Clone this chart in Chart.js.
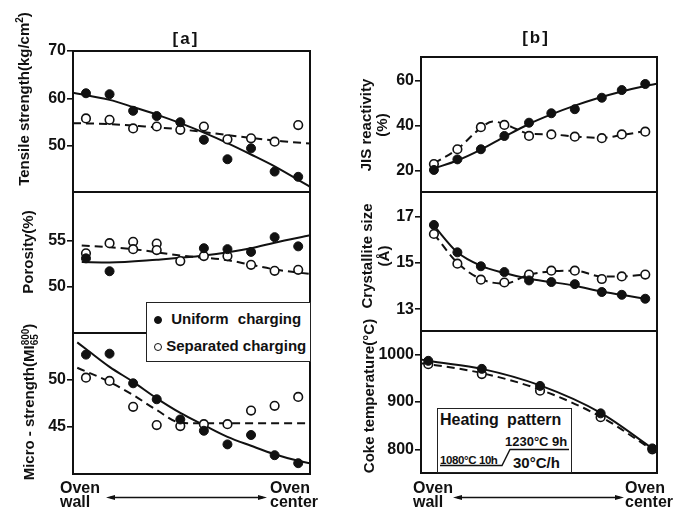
<!DOCTYPE html>
<html>
<head>
<meta charset="utf-8">
<script src="https://cdn.jsdelivr.net/npm/chart.js@4.4.1/dist/chart.umd.min.js"></script>
<style>
  html, body { margin:0; padding:0; background:#fff; }
  body { width:678px; height:512px; position:relative; overflow:hidden; font-family:"Liberation Sans", Arial, sans-serif; color:#111; font-weight:bold; }
  canvas { position:absolute; }
  .t { position:absolute; white-space:nowrap; }
  .rot { position:absolute; white-space:nowrap; transform:translate(-50%,-50%) rotate(-90deg); text-align:center; }
  .box { position:absolute; background:#fff; border:1.5px solid #222; box-sizing:border-box; z-index:5; }
  svg { position:absolute; left:0; top:0; z-index:6; pointer-events:none; }
  .dot { display:inline-block; width:8px; height:8px; border-radius:50%; box-sizing:border-box; border:1.5px solid #111; vertical-align:middle; }
</style>
</head>
<body>
<script>
// ---------------- data ----------------
const posA = [1, 2, 3, 4, 5, 6, 7, 8, 9, 10];
const posB = [1, 2, 3, 4, 5.05, 6, 7, 8.15, 9, 10];

// [a] Tensile strength (kg/cm2)
const tensileUniform   = [61.1, 60.9, 57.4, 56.3, 55.0, 51.3, 47.2, 49.5, 44.6, 43.5];
const tensileSeparated = [55.8, 55.5, 53.7, 54.1, 53.4, 54.1, 51.4, 51.6, 50.9, 54.4];
const tensileUniformFitX = [0.45, 2, 3, 4, 5, 6, 7, 8, 9, 10.5];
const tensileUniformFit  = [61.2, 59.7, 58.2, 56.6, 54.8, 52.8, 50.6, 48.2, 45.7, 41.4];
const tensileSeparatedFitX = [0.45, 2, 3.5, 5, 6.5, 8, 9.3, 10.5];
const tensileSeparatedFit  = [54.8, 54.6, 54.1, 53.5, 52.6, 51.7, 51.0, 50.5];
const tensileTicks = [50, 60, 70];
const tensileTickLabels = ['50', '60', '70'];

// [a] Porosity (%)
const porosityUniformX = [1, 2, 6, 7, 8, 9, 10];
const porosityUniform  = [53.1, 51.7, 54.2, 54.1, 53.8, 55.4, 54.4];
const porositySeparatedX = [1, 2, 3, 3, 4, 4, 5, 6, 7, 8, 9, 10];
const porositySeparated  = [53.65, 54.75, 54.9, 54.1, 54.7, 54.0, 52.8, 53.35, 53.35, 52.4, 51.75, 51.85];
const porosityUniformFitX = [0.82, 2, 4, 6, 8, 9, 10.5];
const porosityUniformFit  = [52.7, 52.65, 52.95, 53.4, 54.2, 54.8, 55.6];
const porositySeparatedFitX = [0.82, 3, 5, 7, 8, 9, 10.5];
const porositySeparatedFit  = [54.5, 54.1, 53.4, 52.9, 52.4, 51.9, 51.4];
const porosityTicks = [50, 55];
const porosityTickLabels = ['50', '55'];

// [a] Micro-strength (MI 800/65)
const microUniform   = [52.7, 52.8, 49.65, 47.95, 45.8, 44.6, 43.15, 44.15, 42.0, 41.15];
const microSeparated = [50.25, 49.9, 47.15, 45.2, 45.1, 45.3, 45.3, 46.75, 47.25, 48.2];
const microUniformFitX = [0.63, 1, 2, 3, 4, 5, 6, 7, 8, 9, 10, 10.5];
const microUniformFit  = [54.0, 53.3, 51.4, 49.8, 48.05, 46.5, 45.2, 43.95, 43.0, 42.1, 41.4, 41.15];
const microSeparatedFitX = [0.63, 2, 3, 4, 5, 5.5, 10.5];
const microSeparatedFit  = [51.3, 49.8, 48.4, 46.8, 45.45, 45.4, 45.4];
const microTicks = [45, 50];
const microTickLabels = ['45', '50'];

// [b] JIS reactivity (%)
const jisUniform   = [20.3, 25.0, 29.5, 35.4, 41.3, 45.5, 47.3, 52.4, 55.8, 58.5];
const jisSeparated = [22.9, 29.5, 39.3, 40.3, 35.4, 36.1, 35.1, 34.4, 36.1, 37.3];
const jisUniformFitX = [1, 2, 3, 4, 5, 6, 7, 8, 9, 10, 10.5];
const jisUniformFit  = [21.0, 24.5, 29.3, 35.0, 40.5, 45.0, 48.9, 52.3, 55.2, 57.6, 58.6];
const jisSeparatedFitX = [1, 2, 3, 3.5, 4, 4.5, 5.05, 6, 7, 8.15, 9, 10];
const jisSeparatedFit  = [23.2, 29.6, 39.0, 41.8, 40.8, 38.5, 36.4, 36.1, 35.1, 34.6, 35.8, 37.6];
const jisTicks = [20, 40, 60];
const jisTickLabels = ['20', '40', '60'];

// [b] Crystallite size (Å)
const crystUniform   = [16.63, 15.45, 14.85, 14.6, 14.24, 14.17, 14.08, 13.74, 13.62, 13.45];
const crystSeparated = [16.24, 14.96, 14.27, 14.15, 14.49, 14.66, 14.66, 14.3, 14.41, 14.49];
const crystUniformFit   = [16.6, 15.45, 14.87, 14.56, 14.31, 14.17, 14.01, 13.76, 13.62, 13.45];
const crystSeparatedFit = [16.24, 15.0, 14.3, 14.1, 14.49, 14.63, 14.66, 14.41, 14.41, 14.49];
const crystTicks = [13, 15, 17];
const crystTickLabels = ['13', '15', '17'];

// [b] Coke temperature (°C)
const cokeX = [0.76, 3.04, 5.52, 8.1, 10.3];
const cokeUniform   = [987, 970, 934, 876, 802];
const cokeSeparated = [980, 959, 924, 868, 800];
const cokeFitX = [0.45, 0.76, 3.04, 5.52, 8.1, 10.3];
const cokeUniformFit   = [990, 987, 970, 935, 877, 802];
const cokeSeparatedFit = [982, 980, 961, 926, 869, 799];
const cokeTicks = [800, 900, 1000];
const cokeTickLabels = ['800', '900', '1000'];

// ---------------- helpers ----------------
const FONT = '"Liberation Sans", Arial, sans-serif';
const INK = '#111';
const zip = (xs, ys) => xs.map((x, i) => ({ x: x, y: ys[i] }));

function filled(xs, ys) {
  return { data: zip(xs, ys), showLine: false, pointRadius: 4.5, pointBackgroundColor: INK,
           pointBorderColor: INK, pointBorderWidth: 1, order: 0 };
}
function open(xs, ys) {
  return { data: zip(xs, ys), showLine: false, pointRadius: 4.3, pointBackgroundColor: '#fff',
           pointBorderColor: INK, pointBorderWidth: 1.6, order: 0 };
}
function solid(xs, ys) {
  return { data: zip(xs, ys), showLine: true, pointRadius: 0, borderColor: INK, borderWidth: 2,
           cubicInterpolationMode: 'monotone', fill: false, order: 1 };
}
function dashed(xs, ys) {
  return { data: zip(xs, ys), showLine: true, pointRadius: 0, borderColor: INK, borderWidth: 2,
           borderDash: [8, 5], cubicInterpolationMode: 'monotone', fill: false, order: 1 };
}

const framePlugin = {
  id: 'frame',
  afterDraw(chart) {
    const a = chart.chartArea, ctx = chart.ctx;
    ctx.save();
    ctx.strokeStyle = INK;
    ctx.lineWidth = 2;
    ctx.strokeRect(a.left, a.top, a.right - a.left, a.bottom - a.top);
    ctx.restore();
  }
};

const ML = 50, M = 12;
function panel(L, T, R, B, yMin, yMax, tickVals, tickLabels, datasets) {
  const c = document.createElement('canvas');
  const w = (R - L) + ML + M, h = (B - T) + 2 * M;
  c.width = w; c.height = h;
  c.style.left = (L - ML) + 'px'; c.style.top = (T - M) + 'px';
  c.style.width = w + 'px'; c.style.height = h + 'px';
  document.body.appendChild(c);
  new Chart(c, {
    type: 'line',
    data: { datasets: datasets },
    options: {
      responsive: false, animation: false, devicePixelRatio: 1,
      layout: { padding: { left: 0, top: M, right: M, bottom: M }, autoPadding: false },
      plugins: { legend: { display: false }, tooltip: { enabled: false } },
      scales: {
        x: { type: 'linear', display: false, min: 0.45, max: 10.5 },
        y: {
          type: 'linear', min: yMin, max: yMax,
          afterFit(s) { s.width = ML; },
          afterBuildTicks(s) { s.ticks = tickVals.map(v => ({ value: v })); },
          ticks: {
            callback: (v) => { const i = tickVals.indexOf(v); return i >= 0 ? tickLabels[i] : ''; },
            font: { family: FONT, size: 16, weight: 'bold' }, color: INK, padding: 1, autoSkip: false
          },
          grid: { drawOnChartArea: false, drawTicks: true, tickLength: 6, color: INK, lineWidth: 1.6 },
          border: { display: false }
        }
      }
    },
    plugins: [framePlugin]
  });
}

// ---------------- panels ----------------
panel(73, 51, 310, 192, 40.3, 70, tensileTicks, tensileTickLabels, [
  filled(posA, tensileUniform), open(posA, tensileSeparated),
  solid(tensileUniformFitX, tensileUniformFit), dashed(tensileSeparatedFitX, tensileSeparatedFit)
]);
panel(73, 192, 310, 333, 45, 60.3, porosityTicks, porosityTickLabels, [
  filled(porosityUniformX, porosityUniform), open(porositySeparatedX, porositySeparated),
  solid(porosityUniformFitX, porosityUniformFit), dashed(porositySeparatedFitX, porositySeparatedFit)
]);
panel(73, 333, 310, 474, 40, 55, microTicks, microTickLabels, [
  filled(posA, microUniform), open(posA, microSeparated),
  solid(microUniformFitX, microUniformFit), dashed(microSeparatedFitX, microSeparatedFit)
]);
panel(421, 57, 657, 192, 10.5, 70.5, jisTicks, jisTickLabels, [
  filled(posB, jisUniform), open(posB, jisSeparated),
  solid(jisUniformFitX, jisUniformFit), dashed(jisSeparatedFitX, jisSeparatedFit)
]);
panel(421, 192, 657, 331, 12.06, 18.05, crystTicks, crystTickLabels, [
  filled(posB, crystUniform), open(posB, crystSeparated),
  solid(posB, crystUniformFit), dashed(posB, crystSeparatedFit)
]);
panel(421, 331, 657, 473, 750, 1050, cokeTicks, cokeTickLabels, [
  filled(cokeX, cokeUniform), open(cokeX, cokeSeparated),
  solid(cokeFitX, cokeUniformFit), dashed(cokeFitX, cokeSeparatedFit)
]);
</script>

<!-- panel titles -->
<div class="t" style="left:160px; top:29px; width:52px; text-align:center; font-size:17px; letter-spacing:2px;">[a]</div>
<div class="t" style="left:510px; top:28px; width:52px; text-align:center; font-size:17px; letter-spacing:2px;">[b]</div>

<!-- y axis titles -->
<div class="rot" style="left:23px; top:99px; font-size:15px;">Tensile strength(kg/cm<sup style="font-size:10px;">2</sup>)</div>
<div class="rot" style="left:27px; top:252px; font-size:15px;">Porosity(%)</div>
<div class="rot" style="left:30px; top:402px; font-size:15px;">Micro - strength(MI<span style="display:inline-block; vertical-align:middle; font-size:10px; line-height:9px; text-align:left;">800<br>65</span>)</div>
<div class="rot" style="left:374px; top:125px; font-size:15px; line-height:16px;">JIS reactivity<br>(%)</div>
<div class="rot" style="left:375px; top:256px; font-size:15px; line-height:17px;">Crystallite size<br>(Å)</div>
<div class="rot" style="left:368px; top:396px; font-size:15px;">Coke temperature(°C)</div>

<!-- legend -->
<div class="box" style="left:146px; top:302px; width:165px; height:60px;">
  <div class="t" style="left:7px; top:7px; font-size:15px; word-spacing:5px;"><span class="dot" style="background:#111;"></span> Uniform charging</div>
  <div class="t" style="left:7px; top:34px; font-size:15px;"><span class="dot" style="background:#fff;"></span> Separated charging</div>
</div>

<!-- heating pattern -->
<div class="box" style="left:437px; top:408px; width:135px; height:65px;">
  <div class="t" style="left:2px; top:2px; font-size:16px; word-spacing:4px;">Heating pattern</div>
  <div class="t" style="left:67px; top:25px; font-size:13px;">1230°C 9h</div>
  <div class="t" style="left:2px; top:45px; font-size:11.5px; letter-spacing:-0.4px;">1080°C 10h</div>
  <div class="t" style="left:75px; top:45px; font-size:15px;">30°C/h</div>
</div>

<!-- x axis annotations -->
<div class="t" style="left:60px; top:481px; font-size:16px; line-height:14px;">Oven<br>wall</div>
<div class="t" style="left:270px; top:481px; font-size:16px; line-height:14px;">Oven<br>center</div>
<div class="t" style="left:413px; top:481px; font-size:16px; line-height:14px;">Oven<br>wall</div>
<div class="t" style="left:625px; top:481px; font-size:16px; line-height:14px;">Oven<br>center</div>

<svg width="678" height="512" viewBox="0 0 678 512">
  <g stroke="#111" stroke-width="1.3" fill="#111">
    <line x1="110" y1="497.5" x2="263" y2="497.5"/>
    <polygon points="106,497.5 115,495 115,500" stroke="none"/>
    <polygon points="267,497.5 258,495 258,500" stroke="none"/>
    <line x1="457" y1="497.5" x2="620" y2="497.5"/>
    <polygon points="453,497.5 462,495 462,500" stroke="none"/>
    <polygon points="624,497.5 615,495 615,500" stroke="none"/>
  </g>
  <g stroke="#111" stroke-width="1.4" fill="none">
    <polyline points="440,465.5 502,465.5 510,449.5 569,449.5"/>
  </g>
</svg>
</body>
</html>
